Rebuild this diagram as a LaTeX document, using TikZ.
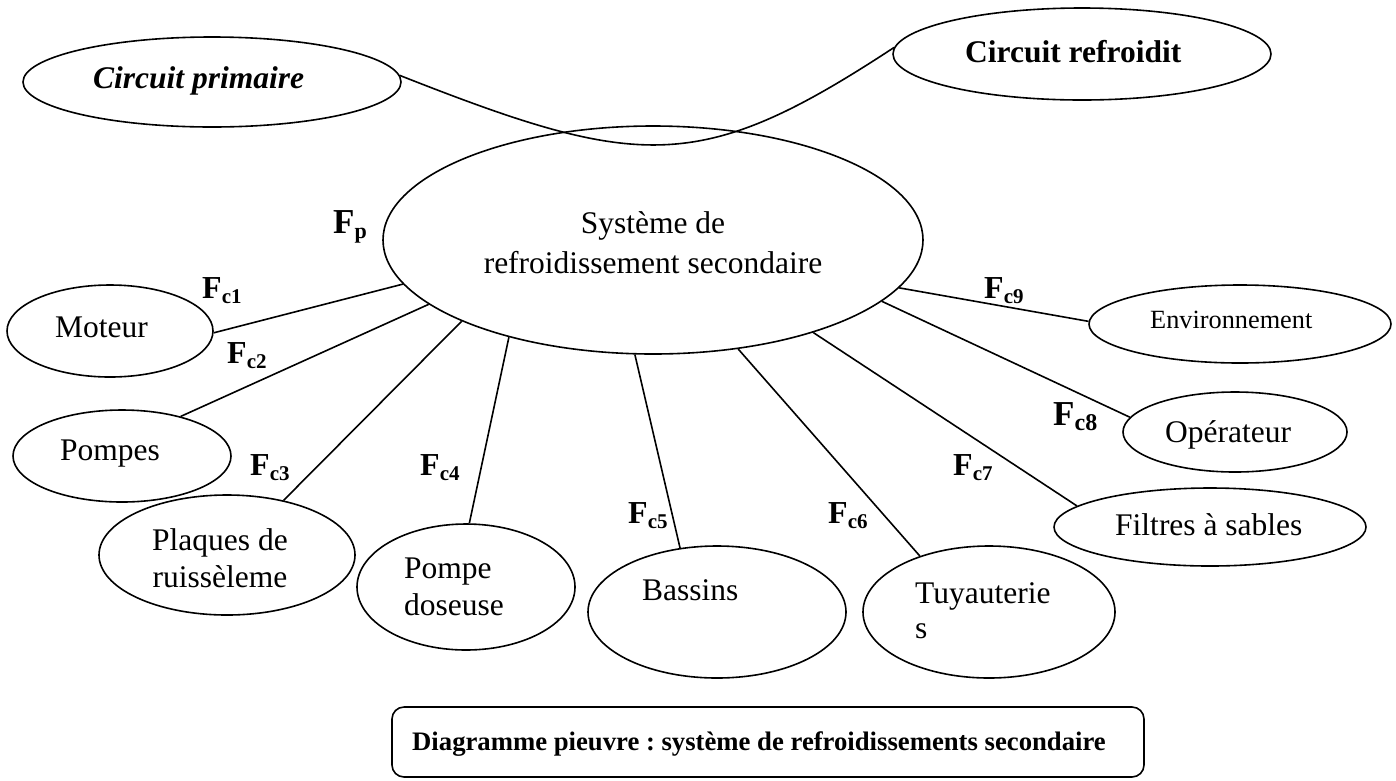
\documentclass[tikz,border=0pt]{standalone}
\usepackage{fontspec}
\setmainfont{Liberation Serif}
\usetikzlibrary{shapes.geometric}
\frenchspacing

% F label with a subscript: #1 size of F, #2 size of index, #3 index
\newcommand{\flab}[3]{{\bfseries\fontsize{#1}{#1}\selectfont F\raisebox{-5pt}{\fontsize{#2}{#2}\selectfont #3}}}

\tikzset{
  oval/.style={draw, ellipse, inner sep=0pt, line width=1.6pt},
  wire/.style={line width=1.6pt},
  txt/.style={inner sep=0pt, anchor=base west, font=\fontsize{31.5}{37}\selectfont},
  flabel/.style={inner sep=0pt, anchor=base west},
}

\begin{document}
\begin{tikzpicture}[x=1pt, y=-1pt]
\useasboundingbox (0,0) rectangle (1396,780);

% ---- ellipses ----
\node[oval, minimum width=378pt, minimum height=90pt] (prim) at (212,82) {};
\node[oval, minimum width=378pt, minimum height=92pt] (refr) at (1082,54) {};
\node[oval, minimum width=540pt, minimum height=228pt] (sys) at (653,240) {};
\node[oval, minimum width=206pt, minimum height=92pt] (mot) at (110,331) {};
\node[oval, minimum width=218pt, minimum height=92pt] (pps) at (122,456) {};
\node[oval, minimum width=256pt, minimum height=120pt] (plq) at (227,555) {};
\node[oval, minimum width=218pt, minimum height=126pt] (dos) at (466,587) {};
\node[oval, minimum width=258pt, minimum height=132pt] (bas) at (717,612) {};
\node[oval, minimum width=252pt, minimum height=132pt] (tuy) at (989,612) {};
\node[oval, minimum width=312pt, minimum height=78pt] (fil) at (1210,527) {};
\node[oval, minimum width=224pt, minimum height=80pt] (ope) at (1235,432) {};
\node[oval, minimum width=302pt, minimum height=78pt] (env) at (1240,324) {};

% ---- texts ----
\node[txt, font=\fontsize{31.5}{37}\selectfont\bfseries\itshape] (primt) at (93,88) {Circuit primaire};
\node[txt, font=\fontsize{31.5}{37}\selectfont\bfseries] (refrt) at (965,62) {Circuit refroidit};
\node[inner sep=0pt, anchor=base, font=\fontsize{31.5}{40}\selectfont] (syst) at (653,233)
  {\begin{tabular}[t]{@{}c@{}}Système de\\refroidissement secondaire\end{tabular}};
\node[txt] (mott) at (55,337) {Moteur};
\node[txt] (ppst) at (60,460) {Pompes};
\node[inner sep=0pt, anchor=base, font=\fontsize{31.5}{37}\selectfont] (plqt) at (220,550)
  {\begin{tabular}[t]{@{}c@{}}Plaques de\\ruissèleme\end{tabular}};
\node[inner sep=0pt, anchor=base west, font=\fontsize{31.5}{37}\selectfont] (dost) at (404,578)
  {\begin{tabular}[t]{@{}l@{}}Pompe\\doseuse\end{tabular}};
\node[txt] (bast) at (642,600) {Bassins};
\node[inner sep=0pt, anchor=base west, font=\fontsize{31.5}{35}\selectfont] (tuyt) at (915,603)
  {\begin{tabular}[t]{@{}l@{}}Tuyauterie\\s\end{tabular}};
\node[txt] (filt) at (1115,535) {Filtres à sables};
\node[txt] (opet) at (1165,442) {Opérateur};
\node[txt, font=\fontsize{26.3}{30}\selectfont] (envt) at (1150,328) {Environnement};

% ---- link between the two circuits ----
\draw[wire] (prim.2) .. controls (640,170) and (700,175) .. (refr.178);

% ---- connectors to the system ----
\draw[wire] (mot.-1)   -- (sys.190);
\draw[wire] (pps.34)   -- (sys.196);
\draw[wire] (plq.44)   -- (sys.203);
\draw[wire] (dos.87)   -- (sys.214);
\draw[wire] (bas.120)  -- (sys.261);
\draw[wire] (tuy.141)  -- (sys.308);
\draw[wire] (fil.171)  -- (sys.330);
\draw[wire] (ope.172)  -- (sys.345);
\draw[wire] (env.179)  -- (sys.349);

% ---- function labels ----
\node[flabel] (fp)  at (333,233)  {\flab{35}{22}{p}};
\node[flabel] (fc1) at (202,298)  {\flab{32}{21}{c1}};
\node[flabel] (fc2) at (227,363)  {\flab{32}{21}{c2}};
\node[flabel] (fc3) at (250,475)  {\flab{32}{21}{c3}};
\node[flabel] (fc4) at (420,475)  {\flab{32}{21}{c4}};
\node[flabel] (fc5) at (628,523)  {\flab{32}{21}{c5}};
\node[flabel] (fc6) at (828,523)  {\flab{32}{21}{c6}};
\node[flabel] (fc7) at (953,475)  {\flab{32}{21}{c7}};
\node[flabel] (fc8) at (1053,425) {\flab{35}{24}{c8}};
\node[flabel] (fc9) at (984,298)  {\flab{32}{21}{c9}};

% ---- caption ----
\node[draw, line width=1.6pt, rounded corners=12pt, minimum width=752pt, minimum height=70pt, inner sep=0pt] (capbox) at (768,742) {};
\node[inner sep=0pt, anchor=base west, font=\fontsize{26.7}{31}\selectfont\bfseries] (capt) at (412,750)
  {Diagramme pieuvre : système de refroidissements secondaire};
\end{tikzpicture}
\end{document}
